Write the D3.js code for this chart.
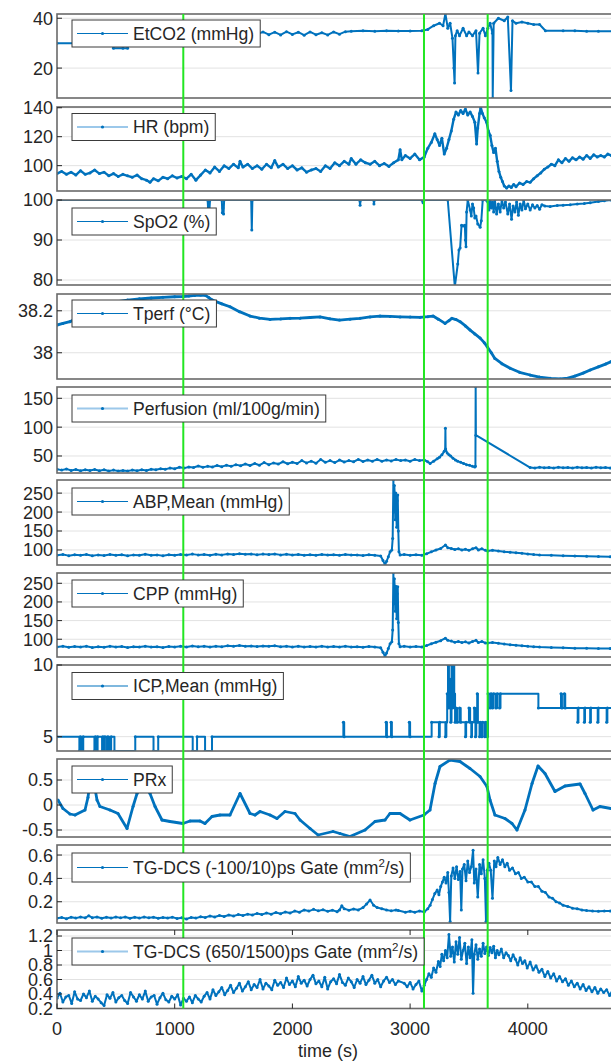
<!DOCTYPE html>
<html><head><meta charset="utf-8">
<script src="https://cdn.jsdelivr.net/npm/d3@7"></script>
<style>body{margin:0;background:#fff} svg{display:block} text{font-family:"Liberation Sans",Arial,Helvetica,sans-serif}</style>
</head><body><svg id="c" width="611" height="1061"></svg>
<script>
// ---------------- DATA ([time s, value]) ----------------
const etco2 = [[0,30],[200,30],[400,30],[470,30],[480,28],[560,28],[600,28],[620,33],[800,34],[1000,34.5],[1200,34.5],[1400,34.3],[1600,34.5],[1700,33.5],[1750,34.5],[1800,33.4],[1850,34.4],[1900,33.3],[1950,34.6],[2000,33.5],[2050,34.4],[2100,33.2],[2150,34.5],[2200,33.4],[2250,34.2],[2300,33.3],[2350,34.5],[2400,33.6],[2450,34.6],[2500,34.8],[2600,35],[2700,34.8],[2800,35],[2900,34.9],[3000,34.9],[3100,35],[3150,35.5],[3200,37],[3250,38],[3280,37],[3300,41.8],[3320,36],[3340,38],[3360,32],[3372,20],[3378,14],[3385,33],[3400,35],[3420,33],[3450,36],[3480,33],[3500,34.5],[3530,33],[3560,35],[3577,18],[3590,34],[3620,36],[3640,33],[3660,36],[3680,38],[3700,34],[3702,8],[3710,38],[3750,40],[3800,39],[3830,40.5],[3857,11],[3870,39],[3900,38],[3950,38.5],[4000,38],[4050,37.5],[4100,37.5],[4150,35],[4300,35],[4400,35],[4500,34.8],[4600,34.8],[4800,34.8]];
const hr = [[0,94.5],[40,96],[80,94],[120,95.5],[160,93.5],[200,96.5],[240,94],[280,95],[320,97],[360,94.5],[400,95.5],[440,93],[480,94.5],[520,92.5],[560,94],[600,93],[640,92],[680,93.5],[720,91],[760,90],[790,88.5],[820,91],[860,89.5],[900,92],[940,91],[980,93],[1020,91.5],[1060,92.5],[1100,91],[1140,94],[1180,90],[1220,93.5],[1260,97],[1300,95],[1340,99],[1380,96],[1420,100],[1460,98],[1500,101],[1540,98.5],[1555,103],[1580,99],[1620,101],[1660,98],[1700,100],[1740,97.5],[1780,101],[1820,98.5],[1850,103.5],[1880,99],[1920,101],[1960,98],[2000,100],[2040,97],[2080,98.5],[2120,95.5],[2160,97],[2200,98],[2240,96],[2280,100],[2320,98],[2360,102],[2400,100],[2440,103],[2480,101],[2500,105],[2540,101],[2580,104],[2620,102],[2660,101],[2700,103],[2740,100],[2780,101.5],[2820,99.5],[2860,102],[2900,104],[2915,111],[2930,104],[2960,107],[3000,105],[3040,108],[3080,104],[3120,106],[3150,112],[3180,116],[3210,122],[3230,118],[3250,114],[3270,119],[3290,108],[3310,112],[3330,118],[3350,124],[3370,132],[3390,137],[3410,135],[3430,138],[3450,136],[3470,139],[3490,135],[3510,137],[3530,134],[3550,130],[3565,115],[3575,126],[3590,136],[3600,140],[3615,136],[3630,133],[3650,130],[3665,124],[3680,121],[3695,114],[3710,109],[3725,112],[3740,103],[3755,96],[3770,92],[3785,89],[3800,86],[3820,84.5],[3840,86],[3860,85],[3880,87],[3900,85.5],[3930,88],[3960,87],[3990,89],[4020,88.5],[4050,91],[4080,93],[4110,95],[4140,97.5],[4170,99],[4200,101],[4230,100],[4260,104],[4290,102],[4320,105],[4350,103],[4380,105.5],[4410,104],[4440,106],[4470,104.5],[4500,107],[4530,105],[4560,107.5],[4590,106],[4620,107],[4650,106],[4680,108],[4710,107],[4750,108]];
const spo2 = [[0,100],[1280,100],[1285,97],[1290,100],[1295,97.5],[1300,100],[1400,100],[1405,96.8],[1410,98],[1415,96.5],[1420,100],[1650,100],[1655,92.5],[1660,100],[2570,100],[2575,98.7],[2580,100],[2690,100],[2693,99],[2697,100],[3100,100],[3110,99.3],[3120,100],[3320,100],[3380,78.3],[3405,84],[3415,87.5],[3425,88],[3437,93.7],[3450,93.5],[3465,93.7],[3470,90],[3475,88.3],[3480,97],[3490,100],[3510,97.5],[3520,96],[3530,99],[3540,98],[3550,95.5],[3560,96],[3575,94],[3595,93.2],[3605,94.8],[3617,100],[3645,100],[3660,99.5],[3670,97.5],[3680,100],[3690,98],[3700,99.5],[3710,97],[3720,100],[3735,96.5],[3750,99],[3765,97],[3780,100],[3795,98],[3810,99.5],[3830,96.5],[3845,99],[3862,95.2],[3875,98.5],[3890,97],[3905,99.5],[3920,96.2],[3935,99],[3950,97.5],[3965,100],[3980,97.8],[4000,99],[4020,97.5],[4040,98.8],[4060,98],[4080,98.6],[4100,97.7],[4120,98.8],[4145,98.5],[4190,98.4],[4250,98.6],[4300,98.7],[4360,98.8],[4420,99],[4480,99.1],[4530,99.3],[4600,99.6],[4650,99.8],[4705,100],[4800,100]];
const tperf = [[0,38.132],[50,38.14],[110,38.148],[200,38.175],[300,38.205],[400,38.228],[500,38.243],[600,38.251],[700,38.257],[800,38.261],[900,38.264],[1000,38.267],[1070,38.268],[1120,38.27],[1170,38.273],[1220,38.275],[1260,38.274],[1290,38.263],[1320,38.251],[1400,38.233],[1470,38.219],[1550,38.196],[1640,38.175],[1720,38.165],[1810,38.159],[1900,38.161],[1980,38.164],[2065,38.165],[2150,38.168],[2235,38.171],[2320,38.162],[2400,38.156],[2490,38.16],[2575,38.164],[2660,38.171],[2745,38.175],[2830,38.173],[2915,38.171],[3000,38.17],[3085,38.169],[3150,38.172],[3195,38.175],[3240,38.16],[3297,38.14],[3330,38.153],[3355,38.164],[3390,38.158],[3425,38.148],[3470,38.128],[3510,38.108],[3550,38.09],[3595,38.07],[3630,38.048],[3655,38.029],[3690,38.0],[3720,37.973],[3780,37.948],[3850,37.926],[3930,37.907],[4020,37.894],[4100,37.884],[4190,37.878],[4275,37.875],[4340,37.879],[4400,37.889],[4470,37.903],[4530,37.918],[4600,37.933],[4660,37.946],[4705,37.957],[4800,37.965]];
const perfusion = [[0,27],[40,25.5],[80,27.5],[120,25],[160,26.5],[200,24.5],[240,26],[280,25],[320,26.5],[360,24.5],[400,26],[440,24],[480,25.5],[520,24],[560,25],[600,24],[640,25.5],[680,24.5],[720,26],[760,25],[800,27],[840,26],[880,28],[920,27],[960,29],[1000,28],[1040,30.5],[1080,29],[1120,31],[1160,30],[1200,32.5],[1240,30.5],[1280,32],[1320,31],[1360,33.5],[1400,31.5],[1440,34],[1480,32],[1520,35],[1560,33],[1600,36],[1640,33.5],[1680,37],[1720,34],[1760,38.5],[1800,35],[1840,38],[1880,36],[1920,40],[1960,36.5],[2000,39],[2040,37],[2080,42],[2120,38],[2160,41],[2200,37.5],[2240,44],[2280,39],[2320,42],[2360,38.5],[2400,43],[2440,39.5],[2480,42],[2520,40],[2560,44],[2600,40.5],[2640,43],[2680,41],[2720,44],[2760,41],[2800,43],[2840,41.5],[2880,44],[2920,42],[2960,43],[3000,41],[3040,44],[3080,42],[3120,43],[3150,40],[3170,37],[3200,41],[3230,45],[3250,48],[3270,52],[3290,58],[3298,60],[3300,98],[3302,62],[3315,55],[3330,52],[3345,50],[3365,46],[3385,43],[3405,41],[3430,39],[3455,37],[3480,35],[3505,34],[3530,32],[3550,31],[3555,32],[3557,170],[3559,86],[4020,30],[4060,29],[4100,30.5],[4140,29.5],[4180,30],[4220,29],[4260,30.5],[4300,29.5],[4340,30],[4380,29],[4420,30.5],[4460,29.5],[4500,30],[4540,29],[4580,30.5],[4620,29.5],[4660,30],[4700,29],[4760,29.5]];
const abp = [[0,86],[50,88],[100,85],[150,87.5],[200,86],[250,88],[300,84.5],[350,87],[400,85.5],[450,88],[500,86],[550,87.5],[600,85],[650,87],[700,86],[750,88.5],[800,86],[850,87],[900,85],[950,87.5],[1000,86],[1050,88],[1100,86.5],[1150,89],[1200,87],[1250,88],[1300,86],[1350,88.5],[1400,87],[1450,89.5],[1500,88],[1550,90],[1600,88.5],[1650,89],[1700,87.5],[1750,89],[1800,88],[1850,89.5],[1900,87],[1950,88.5],[2000,86.5],[2050,88],[2100,86],[2150,87.5],[2200,86],[2250,88],[2300,86.5],[2350,87.5],[2400,86],[2450,88],[2500,86.5],[2550,87],[2600,85.5],[2650,87.5],[2700,86],[2750,84],[2770,72],[2787,61],[2800,70],[2815,82],[2830,95],[2845,100],[2852,130],[2858,285],[2862,200],[2866,270],[2870,240],[2874,180],[2878,250],[2882,220],[2886,160],[2890,230],[2895,245],[2900,150],[2905,95],[2915,87],[2950,88],[3000,86],[3050,87.5],[3100,86],[3140,90],[3180,95],[3220,100],[3260,104],[3300,113],[3320,106],[3350,104],[3380,101],[3410,103],[3440,100],[3470,102],[3500,99],[3530,103],[3560,106],[3580,100],[3610,103],[3640,99],[3660,97],[3700,99],[3750,97],[3800,95],[3850,94],[3900,92.5],[3950,91],[4000,89.5],[4050,88],[4100,87],[4200,86],[4300,85],[4400,84],[4500,83.5],[4600,82.5],[4700,82],[4800,82]];
const cpp = [[0,79],[50,81],[100,78.5],[150,80.5],[200,79],[250,81],[300,78],[350,80],[400,78.5],[450,81],[500,79],[550,80.5],[600,78],[650,80],[700,79],[750,81.5],[800,79],[850,80],[900,78],[950,80.5],[1000,79],[1050,81],[1100,79.5],[1150,82],[1200,80],[1250,81],[1300,79],[1350,81.5],[1400,80],[1450,82.5],[1500,81],[1550,83],[1600,81.5],[1650,82],[1700,80.5],[1750,82],[1800,81],[1850,82.5],[1900,80],[1950,81.5],[2000,79.5],[2050,81],[2100,79],[2150,80.5],[2200,79],[2250,81],[2300,79.5],[2350,80.5],[2400,79],[2450,81],[2500,79.5],[2550,80],[2600,78.5],[2650,80.5],[2700,79],[2750,77],[2770,65],[2787,54],[2800,63],[2815,75],[2830,88],[2845,93],[2852,125],[2858,278],[2862,195],[2866,262],[2870,232],[2874,175],[2878,242],[2882,212],[2886,155],[2890,222],[2895,241],[2900,145],[2905,88],[2915,80],[2950,81],[3000,79],[3050,80.5],[3100,79],[3140,83],[3180,88],[3220,92],[3260,96],[3300,103],[3320,97],[3350,95],[3380,92],[3410,94],[3440,91],[3470,93],[3500,90],[3530,94],[3560,97],[3580,91],[3610,94],[3640,90],[3660,90],[3700,91],[3750,89],[3800,87],[3850,85.5],[3900,84],[3950,82.5],[4000,81],[4050,80],[4100,79],[4200,78],[4300,77],[4400,76],[4500,76],[4600,75.5],[4700,75],[4800,75]];
const icp = [[0,5],[190,4],[198,5],[215,4],[223,5],[318,4],[326,5],[338,4],[345,5],[383,4],[390,5],[400,4],[407,5],[425,4],[432,5],[445,4],[460,5],[488,4],[665,5],[820,4],[860,5],[1153,4],[1190,5],[1258,4],[1317,5],[2433,6],[2440,5],[2796,6],[2803,5],[2838,6],[2845,5],[2993,6],[3000,5],[3183,6],[3245,5],[3252,6],[3300,5],[3308,6],[3315,8],[3322,10],[3330,7],[3340,9],[3345,6],[3352,10],[3360,7],[3368,10],[3375,8],[3382,6],[3390,7],[3400,6],[3420,7],[3430,6],[3470,5],[3476,6],[3500,7],[3510,6],[3520,5],[3526,6],[3545,7],[3555,5],[3562,6],[3570,8],[3576,6],[3590,5],[3596,6],[3610,5],[3616,6],[3635,5],[3642,6],[3655,5],[3662,8],[3680,7],[3688,8],[3700,7],[3710,8],[3730,7],[3740,8],[3760,7],[3768,8],[4090,7],[4282,8],[4290,7],[4310,8],[4318,7],[4424,6],[4430,7],[4480,6],[4486,7],[4530,6],[4536,7],[4594,6],[4600,7],[4670,6],[4676,7],[4800,7]];
const prx = [[8,0.1],[51,-0.07],[110,-0.18],[153,-0.2],[238,-0.1],[263,0.15],[280,0.45],[297,0.55],[314,0.45],[340,0.1],[365,-0.03],[450,-0.1],[518,-0.17],[595,-0.47],[646,-0.03],[680,0.23],[714,0.38],[748,0.4],[790,0.23],[833,-0.03],[892,-0.3],[960,-0.33],[1070,-0.37],[1130,-0.32],[1215,-0.32],[1257,-0.37],[1317,-0.23],[1385,-0.2],[1470,-0.2],[1555,0.23],[1640,-0.17],[1682,-0.2],[1725,-0.13],[1810,-0.2],[1869,-0.27],[1937,-0.13],[2022,-0.17],[2065,-0.3],[2150,-0.47],[2218,-0.6],[2345,-0.53],[2404,-0.57],[2489,-0.63],[2617,-0.5],[2702,-0.33],[2787,-0.3],[2829,-0.17],[2914,-0.17],[2999,-0.3],[3118,-0.2],[3169,-0.1],[3212,0.43],[3254,0.77],[3339,0.9],[3424,0.87],[3509,0.73],[3594,0.57],[3653,0.37],[3679,0.1],[3721,-0.2],[3806,-0.27],[3866,-0.37],[3908,-0.5],[3976,-0.1],[4036,0.43],[4087,0.78],[4146,0.63],[4231,0.27],[4316,0.38],[4444,0.42],[4486,0.23],[4554,-0.1],[4613,-0.03],[4707,-0.07],[4800,-0.08]];
const tgShort = [[0,0.058],[40,0.066],[80,0.055],[120,0.068],[160,0.06],[200,0.07],[240,0.062],[270,0.08],[300,0.064],[340,0.07],[380,0.058],[420,0.068],[460,0.06],[500,0.07],[540,0.062],[580,0.07],[620,0.058],[660,0.068],[700,0.06],[740,0.07],[780,0.062],[820,0.068],[860,0.058],[900,0.066],[940,0.06],[980,0.068],[1020,0.056],[1060,0.062],[1100,0.052],[1140,0.066],[1180,0.06],[1220,0.072],[1260,0.066],[1300,0.078],[1340,0.07],[1380,0.082],[1420,0.074],[1460,0.086],[1500,0.078],[1540,0.09],[1580,0.082],[1620,0.094],[1660,0.086],[1700,0.1],[1740,0.09],[1780,0.104],[1820,0.094],[1860,0.108],[1900,0.098],[1940,0.112],[1980,0.104],[2020,0.12],[2060,0.11],[2100,0.13],[2140,0.12],[2180,0.135],[2220,0.122],[2260,0.132],[2300,0.118],[2340,0.128],[2380,0.115],[2400,0.13],[2420,0.165],[2440,0.14],[2480,0.128],[2520,0.138],[2560,0.13],[2600,0.15],[2630,0.18],[2660,0.215],[2690,0.17],[2720,0.15],[2760,0.14],[2800,0.13],[2840,0.122],[2880,0.13],[2900,0.125],[2960,0.11],[3000,0.118],[3040,0.11],[3080,0.12],[3120,0.112],[3150,0.14],[3170,0.17],[3190,0.22],[3210,0.27],[3230,0.3],[3245,0.26],[3260,0.33],[3275,0.37],[3290,0.41],[3305,0.36],[3320,0.45],[3330,0.28],[3340,0.03],[3350,0.42],[3365,0.49],[3380,0.4],[3395,0.5],[3410,0.39],[3425,0.46],[3435,0.13],[3445,0.48],[3460,0.52],[3475,0.38],[3490,0.55],[3505,0.45],[3520,0.5],[3535,0.64],[3545,0.36],[3560,0.48],[3575,0.24],[3590,0.52],[3605,0.44],[3620,0.56],[3635,0.4],[3645,0.03],[3655,0.47],[3670,0.53],[3685,0.47],[3700,0.23],[3715,0.55],[3730,0.5],[3745,0.58],[3765,0.52],[3785,0.56],[3805,0.5],[3825,0.53],[3845,0.47],[3870,0.49],[3895,0.44],[3920,0.45],[3945,0.4],[3970,0.41],[4000,0.37],[4030,0.37],[4060,0.33],[4090,0.33],[4120,0.29],[4150,0.28],[4180,0.24],[4210,0.23],[4240,0.2],[4270,0.19],[4300,0.17],[4340,0.16],[4380,0.145],[4420,0.14],[4460,0.13],[4500,0.125],[4550,0.12],[4600,0.118],[4650,0.12],[4700,0.12],[4760,0.12]];
const tgLong = [[0,0.34],[25,0.41],[50,0.29],[75,0.36],[100,0.38],[125,0.27],[150,0.43],[175,0.33],[200,0.31],[225,0.4],[250,0.35],[275,0.44],[300,0.3],[325,0.37],[350,0.33],[375,0.28],[400,0.24],[425,0.39],[450,0.34],[475,0.42],[500,0.29],[525,0.35],[550,0.38],[575,0.31],[600,0.27],[625,0.42],[650,0.36],[675,0.3],[700,0.39],[725,0.33],[750,0.44],[775,0.3],[800,0.36],[825,0.38],[850,0.26],[875,0.35],[900,0.41],[925,0.32],[950,0.29],[975,0.37],[1000,0.33],[1025,0.39],[1050,0.25],[1075,0.34],[1100,0.3],[1125,0.36],[1150,0.28],[1175,0.38],[1200,0.33],[1225,0.29],[1250,0.37],[1275,0.42],[1300,0.33],[1325,0.46],[1350,0.38],[1375,0.43],[1400,0.49],[1425,0.39],[1450,0.45],[1475,0.52],[1500,0.42],[1525,0.48],[1550,0.55],[1575,0.44],[1600,0.5],[1625,0.57],[1650,0.46],[1675,0.53],[1700,0.49],[1725,0.6],[1750,0.47],[1775,0.55],[1800,0.51],[1825,0.46],[1850,0.59],[1875,0.52],[1900,0.56],[1925,0.49],[1950,0.62],[1975,0.53],[2000,0.58],[2025,0.5],[2050,0.64],[2075,0.55],[2100,0.59],[2125,0.51],[2150,0.6],[2175,0.66],[2200,0.54],[2225,0.58],[2250,0.5],[2275,0.63],[2300,0.47],[2325,0.57],[2350,0.61],[2375,0.54],[2400,0.67],[2425,0.56],[2450,0.52],[2475,0.62],[2500,0.57],[2525,0.49],[2550,0.6],[2575,0.55],[2600,0.64],[2625,0.53],[2650,0.59],[2675,0.66],[2700,0.55],[2725,0.6],[2750,0.5],[2775,0.58],[2800,0.63],[2825,0.56],[2850,0.6],[2875,0.53],[2900,0.58],[2950,0.55],[2975,0.5],[3000,0.56],[3025,0.47],[3050,0.53],[3075,0.58],[3100,0.44],[3120,0.52],[3140,0.6],[3160,0.68],[3180,0.63],[3200,0.76],[3220,0.7],[3240,0.85],[3255,0.78],[3270,0.95],[3285,0.86],[3300,1.0],[3315,0.9],[3330,1.22],[3345,0.92],[3360,1.05],[3375,0.84],[3390,1.12],[3405,0.95],[3420,1.18],[3435,0.88],[3450,1.0],[3465,1.1],[3480,0.82],[3495,1.05],[3510,0.9],[3525,1.15],[3535,0.41],[3545,0.95],[3560,1.08],[3575,0.88],[3590,1.02],[3605,0.92],[3620,1.1],[3635,0.96],[3650,1.05],[3665,0.93],[3680,1.04],[3695,0.97],[3710,1.06],[3725,0.9],[3740,1.0],[3755,0.94],[3775,1.02],[3795,0.9],[3815,0.97],[3835,0.93],[3855,0.86],[3875,0.94],[3895,0.88],[3915,0.8],[3935,0.9],[3955,0.82],[3975,0.86],[3995,0.76],[4020,0.84],[4045,0.73],[4070,0.79],[4095,0.7],[4120,0.74],[4145,0.64],[4170,0.71],[4195,0.62],[4220,0.68],[4245,0.58],[4270,0.64],[4295,0.57],[4320,0.61],[4345,0.52],[4370,0.58],[4395,0.5],[4420,0.55],[4445,0.47],[4470,0.53],[4495,0.45],[4520,0.5],[4545,0.43],[4570,0.49],[4595,0.41],[4620,0.47],[4645,0.42],[4670,0.46],[4695,0.38],[4720,0.45],[4760,0.42]];

const seriesNames = ["EtCO2 (mmHg)","HR (bpm)","SpO2 (%)","Tperf (°C)","Perfusion (ml/100g/min)","ABP,Mean (mmHg)","CPP (mmHg)","ICP,Mean (mmHg)","PRx","TG-DCS (-100/10)ps Gate (mm|2|/s)","TG-DCS (650/1500)ps Gate (mm|2|/s)"];
const seriesData = [etco2, hr, spo2, tperf, perfusion, abp, cpp, icp, prx, tgShort, tgLong];
const yLimits = [[8,41.7],[82.5,140.5],[78.75,100],[37.875,38.28],[20.5,169.6],[60.3,284.6],[52.4,277.6],[4,10],[-0.64,0.92],[0.018,0.686],[0.2,1.283]];
const yTicks = [[20,40],[100,120,140],[80,90,100],[38,38.2],[50,100,150],[100,150,200,250],[100,150,200,250],[5,10],[-0.5,0,0.5],[0.2,0.4,0.6],[0.2,0.4,0.6,0.8,1,1.2]];
const xTicks = [0,1000,2000,3000,4000];
const xLimits = [0,4800];
const eventTimes = [1073,3118,3659];
const xLabel = "time (s)";

// ---------------- LAYOUT ----------------
const tops    = [14,107,200,294,387,480,573,665,759,845,930];
const bottoms = [98,191,285,379,473,565,657,751,837,923,1008.5];
const legendTops = [20,113.5,208,300,395,488,580,672.5,766,853,938];
const lightLegend = [false,true,false,false,true,false,false,false,false,false,true];
const stepSeries = 7;
const L = 57;
const blue = "#0072BD";
const ink = "#262626";

const svg = d3.select("#c");
const x = d3.scaleLinear().domain(xLimits).range([L, L + 0.1177*(xLimits[1]-xLimits[0])]);
const R = x.range()[1];

const defs = svg.append("defs");
const panelG = svg.append("g");
const eventG = svg.append("g");
const legendG = svg.append("g");

seriesData.forEach((data, i) => {
  const y = d3.scaleLinear().domain(yLimits[i]).range([bottoms[i], tops[i]]);
  const g = panelG.append("g");
  defs.append("clipPath").attr("id","clip"+i).append("rect")
    .attr("x", L).attr("y", tops[i]).attr("width", R-L).attr("height", bottoms[i]-tops[i]);
  g.selectAll("line.grid").data(yTicks[i]).join("line")
    .attr("x1", L).attr("x2", R).attr("y1", d=>y(d)).attr("y2", d=>y(d))
    .attr("stroke", "#e2e2e2").attr("stroke-width", 1);
  const dg = g.append("g").attr("clip-path", `url(#clip${i})`);
  const line = d3.line().x(d=>x(d[0])).y(d=>y(d[1]));
  if (i === stepSeries) line.curve(d3.curveStepAfter);
  dg.append("path").attr("d", line(data)).attr("fill","none").attr("stroke", blue)
    .attr("stroke-width", (i===3||i===8) ? 2.8 : (i===1 ? 2.4 : 2)).attr("stroke-linejoin","round");
  dg.selectAll("circle").data(data).join("circle")
    .attr("cx", d=>x(d[0])).attr("cy", d=>y(d[1])).attr("r", 1.5).attr("fill", blue);
  g.append("rect").attr("x", L).attr("y", tops[i]).attr("width", R-L).attr("height", bottoms[i]-tops[i])
    .attr("fill","none").attr("stroke","#6a6a6a").attr("stroke-width",1.6);
  g.selectAll("line.yt").data(yTicks[i]).join("line")
    .attr("x1", L).attr("x2", L+5).attr("y1", d=>y(d)).attr("y2", d=>y(d))
    .attr("stroke", ink).attr("stroke-width", 1);
  g.selectAll("text.yl").data(yTicks[i]).join("text")
    .attr("x", L-4).attr("y", d=>y(d)).attr("dy","0.36em").attr("text-anchor","end")
    .attr("font-size", 18).attr("fill", ink).text(d=>String(d));
  if (i === seriesData.length-1) {
    g.selectAll("line.xt").data(xTicks).join("line")
      .attr("x1", d=>x(d)).attr("x2", d=>x(d)).attr("y1", bottoms[i]).attr("y2", bottoms[i]-5)
      .attr("stroke", ink);
    g.selectAll("line.xt2").data(xTicks).join("line")
      .attr("x1", d=>x(d)).attr("x2", d=>x(d)).attr("y1", tops[i]).attr("y2", tops[i]+5)
      .attr("stroke", ink);
    g.selectAll("text.xl").data(xTicks).join("text")
      .attr("x", d=>x(d)).attr("y", 1035).attr("text-anchor","middle")
      .attr("font-size", 18).attr("fill", ink).text(d=>String(d));
    g.append("text").attr("x", 328).attr("y", 1057).attr("text-anchor","middle")
      .attr("font-size", 18).attr("fill", ink).text(xLabel);
  }
});

eventG.selectAll("line").data(eventTimes).join("line")
  .attr("x1", d=>x(d)).attr("x2", d=>x(d)).attr("y1", tops[0]).attr("y2", bottoms[bottoms.length-1])
  .attr("stroke", "#22e622").attr("stroke-width", 2);

seriesNames.forEach((name, i) => {
  const g = legendG.append("g");
  const parts = name.split("|");
  const h = i === 9 ? 29 : 27;
  const yc = legendTops[i] + h/2;
  const rect = g.append("rect").attr("x", 72).attr("y", legendTops[i]).attr("height", h)
    .attr("fill","#fff").attr("stroke","#3a3a3a").attr("stroke-width",1);
  g.append("line").attr("x1", 77).attr("x2", 128).attr("y1", yc).attr("y2", yc)
    .attr("stroke", lightLegend[i] ? "#9cc8ea" : blue).attr("stroke-width", lightLegend[i] ? 2 : 1.2);
  g.append("circle").attr("cx", 102.5).attr("cy", yc).attr("r", 1.6).attr("fill", blue);
  const t = g.append("text").attr("x", 133).attr("y", yc + 6).attr("font-size", 17.6).attr("fill", ink);
  if (parts.length > 1) {
    t.append("tspan").text(parts[0]);
    t.append("tspan").attr("dy", -7).attr("font-size", 11.5).text(parts[1]);
    t.append("tspan").attr("dy", 7).text(parts[2]);
  } else t.text(name);
  const w = t.node().getComputedTextLength();
  rect.attr("width", 133 - 72 + w + 6);
});
</script></body></html>
